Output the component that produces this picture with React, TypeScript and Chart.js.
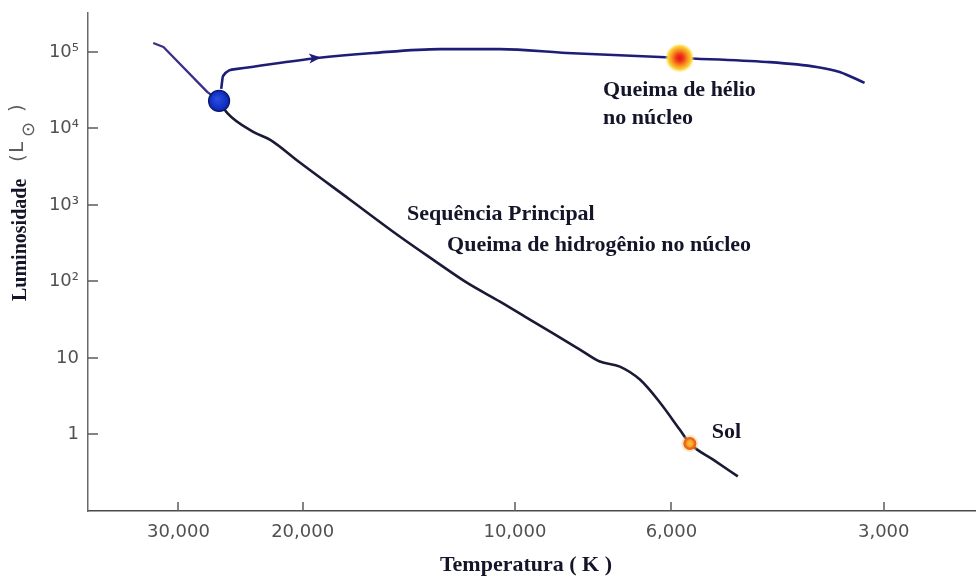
import React, { useEffect, useRef } from "react";
import { Chart, registerables } from "chart.js";

Chart.register(...registerables);

// Axis ticks
const xTickValues = [30000, 20000, 10000, 6000, 3000];
const xTickLabels = ["30,000", "20,000", "10,000", "6,000", "3,000"];
const yTickValues = [1, 10, 100, 1000, 10000, 100000];
const yTickLabels = ["1", "10", "10²", "10³", "10⁴", "10⁵"];

// Upper part of main sequence (massive stars, above the blue star)
const topSeqTemp = [32570, 31500, 27310, 26270];
const topSeqLum = [131000, 116000, 30060, 22900];

// Main sequence below the blue star
const mainSeqTemp = [26270, 25590, 23500, 22230, 20160, 17130, 14550, 13070, 11700, 10500, 9523, 8090, 7580, 7100, 6650, 6230, 5840, 5650, 5243, 4831];
const mainSeqLum = [22900, 16000, 9030, 7100, 3555, 1170, 384, 193, 96.4, 54.5, 31.7, 12.9, 8.98, 7.72, 5.22, 2.62, 1.16, 0.763, 0.472, 0.283];

// Evolutionary track (helium burning branch)
const trackTemp = [26090, 25930, 24760, 19080, 15890, 12770, 10500, 8440, 6230, 5840, 4397, 3735, 3465, 3194];
const trackLum = [32900, 48600, 60000, 83500, 97000, 109000, 109000, 97000, 86000, 83500, 74000, 63700, 54800, 39400];

// Arrow on the track (tip, and a point further along for direction)
const arrowTemp = [18830, 15890];
const arrowLum = [84800, 97000];

// Markers
const blueStarTemp = [26270];
const blueStarLum = [22900];
const heliumStarTemp = [5840];
const heliumStarLum = [83500];
const sunTemp = [5650];
const sunLum = [0.763];

// Annotations
const noteTexts = ["Queima de hélio", "no núcleo", "Sequência Principal", "Queima de hidrogênio no núcleo", "Sol"];
const noteTemp = [7500, 7500, 14220, 12480, 5260];
const noteLum = [31900, 13700, 745, 293, 1.06];

const xTitle = "Temperatura ( K )";
const yTitleMain = "Luminosidade";
const yTitleUnitParts = ["(", "L", "⊙", ")"];

const toPts = (t: number[], l: number[]) => t.map((v, i) => ({ x: v, y: l[i] }));

const TEXT_COLOR = "#15152a";
const SERIF = "'Liberation Serif', 'Times New Roman', serif";
const SANS = "'DejaVu Sans', sans-serif";

const decorPlugin = {
  id: "hrDecor",
  afterDatasetsDraw(chart: any) {
    const { ctx, chartArea } = chart;
    const x = chart.scales.x;
    const y = chart.scales.y;
    ctx.save();

    // inner tick marks
    ctx.strokeStyle = "#5a5a5a";
    ctx.lineWidth = 1.5;
    yTickValues.forEach((v) => {
      const py = Math.round(y.getPixelForValue(v));
      ctx.beginPath();
      ctx.moveTo(chartArea.left, py);
      ctx.lineTo(chartArea.left + 10, py);
      ctx.stroke();
    });
    xTickValues.forEach((v) => {
      const px = Math.round(x.getPixelForValue(v));
      ctx.beginPath();
      ctx.moveTo(px, chartArea.bottom);
      ctx.lineTo(px, chartArea.bottom - 9);
      ctx.stroke();
    });

    // arrow head
    {
      const tx = x.getPixelForValue(arrowTemp[0]);
      const ty = y.getPixelForValue(arrowLum[0]);
      const nx = x.getPixelForValue(arrowTemp[1]);
      const ny = y.getPixelForValue(arrowLum[1]);
      const ang = Math.atan2(ny - ty, nx - tx);
      const len = 12;
      const half = 5;
      ctx.fillStyle = "#1e1e78";
      ctx.beginPath();
      ctx.moveTo(tx, ty);
      const bx = tx - len * Math.cos(ang);
      const by = ty - len * Math.sin(ang);
      ctx.lineTo(bx + half * Math.sin(ang), by - half * Math.cos(ang));
      ctx.lineTo(bx + 3 * Math.cos(ang), by + 3 * Math.sin(ang));
      ctx.lineTo(bx - half * Math.sin(ang), by + half * Math.cos(ang));
      ctx.closePath();
      ctx.fill();
    }

    // blue star
    {
      const px = x.getPixelForValue(blueStarTemp[0]);
      const py = y.getPixelForValue(blueStarLum[0]);
      const g = ctx.createRadialGradient(px - 2, py - 2, 1, px, py, 11);
      g.addColorStop(0, "#2a4ae0");
      g.addColorStop(0.7, "#1032c4");
      g.addColorStop(1, "#0c1e8a");
      ctx.fillStyle = g;
      ctx.beginPath();
      ctx.arc(px, py, 10.5, 0, Math.PI * 2);
      ctx.fill();
      ctx.strokeStyle = "#0a1870";
      ctx.lineWidth = 1.2;
      ctx.stroke();
    }

    // helium burning star
    {
      const px = x.getPixelForValue(heliumStarTemp[0]);
      const py = y.getPixelForValue(heliumStarLum[0]);
      const g = ctx.createRadialGradient(px, py, 0, px, py, 15);
      g.addColorStop(0, "#e8101a");
      g.addColorStop(0.25, "#ee3a1a");
      g.addColorStop(0.5, "#f68a1c");
      g.addColorStop(0.78, "#fbd33a");
      g.addColorStop(1, "rgba(255,240,170,0)");
      ctx.fillStyle = g;
      ctx.beginPath();
      ctx.arc(px, py, 15, 0, Math.PI * 2);
      ctx.fill();
    }

    // sun
    {
      const px = x.getPixelForValue(sunTemp[0]);
      const py = y.getPixelForValue(sunLum[0]);
      ctx.fillStyle = "rgba(250,200,120,0.45)";
      ctx.beginPath();
      ctx.arc(px, py, 8.5, 0, Math.PI * 2);
      ctx.fill();
      const g = ctx.createRadialGradient(px, py, 0, px, py, 7);
      g.addColorStop(0, "#f9c23a");
      g.addColorStop(0.45, "#f6a22a");
      g.addColorStop(0.65, "#ee6a14");
      g.addColorStop(1, "#e85a10");
      ctx.fillStyle = g;
      ctx.beginPath();
      ctx.arc(px, py, 6.5, 0, Math.PI * 2);
      ctx.fill();
    }

    // annotations
    ctx.fillStyle = TEXT_COLOR;
    ctx.font = `bold 22px ${SERIF}`;
    ctx.textAlign = "left";
    ctx.textBaseline = "middle";
    noteTexts.forEach((t, i) => {
      ctx.fillText(t, x.getPixelForValue(noteTemp[i]), y.getPixelForValue(noteLum[i]));
    });

    // x title
    ctx.textAlign = "center";
    ctx.textBaseline = "middle";
    ctx.font = `bold 22px ${SERIF}`;
    ctx.fillText(xTitle, (chartArea.left + chartArea.right) / 2 - 6, 565);

    // y title (rotated)
    ctx.save();
    ctx.translate(21, 301);
    ctx.rotate(-Math.PI / 2);
    ctx.textAlign = "left";
    ctx.textBaseline = "middle";
    ctx.font = `bold 20px ${SERIF}`;
    ctx.fillStyle = TEXT_COLOR;
    ctx.fillText(yTitleMain, 0, 0);
    ctx.fillStyle = "#5c5c5c";
    ctx.font = `20px ${SANS}`;
    ctx.fillText(yTitleUnitParts[0], 139, -2);
    ctx.fillText(yTitleUnitParts[1], 148, -3);
    ctx.font = `18px ${SANS}`;
    ctx.fillText(yTitleUnitParts[2], 164, 8);
    ctx.font = `20px ${SANS}`;
    ctx.fillText(yTitleUnitParts[3], 189, -3);
    ctx.restore();

    ctx.restore();
  },
};

export default function App() {
  const ref = useRef<HTMLCanvasElement | null>(null);

  useEffect(() => {
    document.body.style.margin = "0";
    const canvas = ref.current;
    if (!canvas) return;
    const chart = new Chart(canvas, {
      type: "scatter",
      data: {
        datasets: [
          {
            data: toPts(topSeqTemp, topSeqLum),
            showLine: true,
            borderColor: "#3a2f86",
            borderWidth: 2.3,
            pointRadius: 0,
            tension: 0,
            borderJoinStyle: "round",
          },
          {
            data: toPts(mainSeqTemp, mainSeqLum),
            showLine: true,
            borderColor: "#1a1a36",
            borderWidth: 2.6,
            pointRadius: 0,
            cubicInterpolationMode: "monotone",
          },
          {
            data: toPts(trackTemp, trackLum),
            showLine: true,
            borderColor: "#1e1e78",
            borderWidth: 2.6,
            pointRadius: 0,
            cubicInterpolationMode: "monotone",
          },
        ],
      } as any,
      options: {
        responsive: false,
        animation: false,
        devicePixelRatio: 1,
        layout: { padding: { top: 13, right: 0, left: 0, bottom: 0 } },
        plugins: { legend: { display: false }, tooltip: { enabled: false } },
        elements: { point: { radius: 0 } },
        scales: {
          x: {
            type: "logarithmic",
            reverse: true,
            min: 2220,
            max: 40300,
            position: "bottom",
            afterBuildTicks: (s: any) => {
              s.ticks = xTickValues.map((v) => ({ value: v }));
            },
            afterFit: (s: any) => {
              s.height = 66;
              s.paddingLeft = 0;
              s.paddingRight = 0;
            },
            grid: { display: false, drawTicks: false },
            border: { display: true, color: "#4a4a4a", width: 1.5 },
            ticks: {
              autoSkip: false,
              maxRotation: 0,
              padding: 11,
              color: "#505050",
              font: { family: "DejaVu Sans", size: 18 },
              callback: (_v: any, i: number) => xTickLabels[i],
            },
          },
          y: {
            type: "logarithmic",
            min: 0.1,
            max: 322800,
            afterBuildTicks: (s: any) => {
              s.ticks = yTickValues.map((v) => ({ value: v }));
            },
            afterFit: (s: any) => {
              s.width = 88;
              s.paddingTop = 0;
              s.paddingBottom = 0;
            },
            grid: { display: false, drawTicks: false },
            border: { display: true, color: "#6a6a6a", width: 1.5 },
            ticks: {
              autoSkip: false,
              padding: 9,
              color: "#505050",
              font: { family: "DejaVu Sans", size: 18 },
              callback: (_v: any, i: number) => yTickLabels[i],
            },
          },
        },
      } as any,
      plugins: [decorPlugin],
    });
    return () => chart.destroy();
  }, []);

  return (
    <div style={{ width: 976, height: 577, background: "#ffffff" }}>
      <canvas ref={ref} width={976} height={577} style={{ display: "block" }} />
    </div>
  );
}
